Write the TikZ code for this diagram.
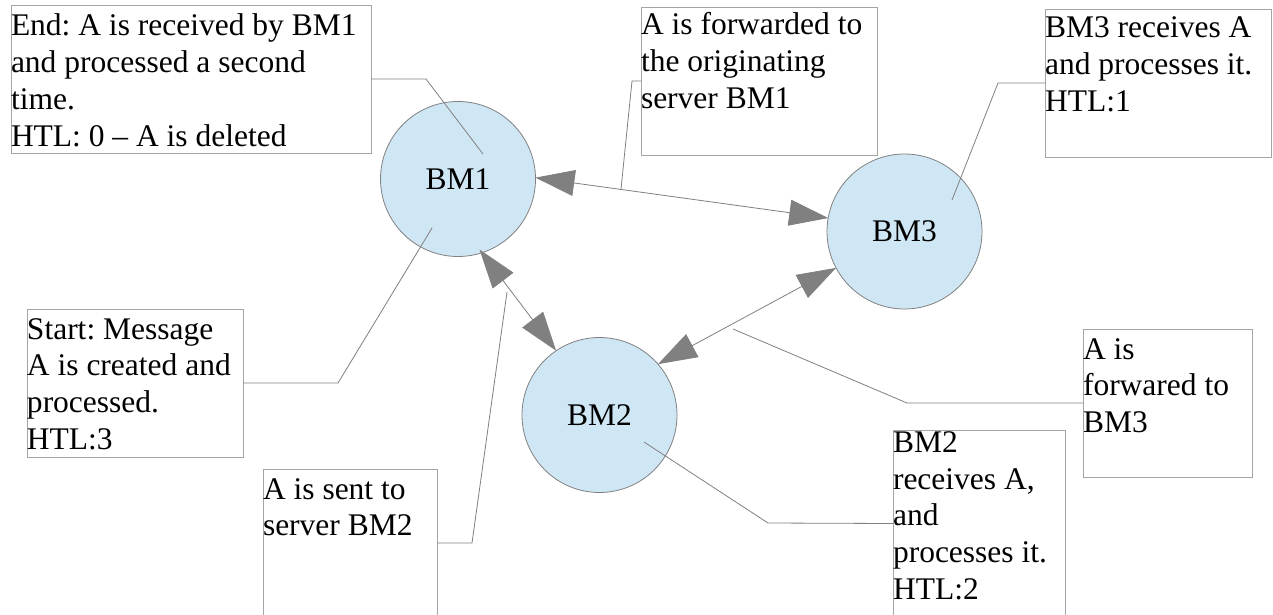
\documentclass[tikz,border=0pt]{standalone}
\usepackage{fontspec}
\setmainfont{Liberation Serif}
\usetikzlibrary{arrows.meta}
\definecolor{bmfill}{RGB}{207,231,245}
\definecolor{lgray}{RGB}{128,128,128}
\definecolor{boxgray}{RGB}{165,165,165}
\newcommand{\boxtext}[4]{\parbox[c][#2pt][t]{#1pt}{\raggedright\frenchspacing\hbadness=10000\rule{0pt}{#3pt}#4}}
\begin{document}
\begin{tikzpicture}[x=1pt,y=-1pt,
  txt/.style={font=\fontsize{31.5pt}{36.7pt}\selectfont},
  tbox/.style={txt,draw=boxgray,line width=0.8pt,inner sep=0pt,outer sep=0pt},
  bm/.style={txt,circle,minimum size=155pt,inner sep=0pt,outer sep=0pt,fill=bmfill,draw=lgray,line width=0.8pt},
  leader/.style={draw=lgray,line width=0.8pt},
  biarrow/.style={draw=lgray,line width=0.8pt,
    {Triangle[length=39pt,width=26pt,fill=lgray]}-{Triangle[length=39pt,width=26pt,fill=lgray]}}]
\useasboundingbox (0,0) rectangle (1273,615);
\fill[white] (0,0) rectangle (1273,615);

% text boxes
\node[tbox] (End) at (191,79) {\boxtext{360}{148}{31}{End: A is received by BM1\\and processed a second\\time.\\HTL: 0 -- A is deleted}};
\node[tbox] (Orig) at (759,81) {\boxtext{236}{148}{28}{A is forwarded to\\the originating\\server BM1}};
\node[tbox] (R3) at (1158,83) {\boxtext{226}{148}{29}{BM3 receives A\\and processes it.\\HTL:1}};
\node[tbox] (Start) at (135,383) {\boxtext{216}{148}{30}{Start: Message\\A is created and\\processed.\\HTL:3}};
\node[tbox] (Sent) at (350,543) {\boxtext{174}{148}{30}{A is sent to\\server BM2}};
\node[tbox] (R2) at (979,523.5) {\boxtext{172}{186}{22}{BM2\\receives A,\\and\\processes it.\\HTL:2}};
\node[tbox] (F3) at (1167.5,403) {\boxtext{169}{148}{30}{A is\\forwared to\\BM3}};

% servers
\node[bm] (BM1) at (458,179) {BM1};
\node[bm] (BM2) at (599.5,415) {BM2};
\node[bm] (BM3) at (904.5,231.5) {BM3};

% leader line points
\coordinate (c1) at (426,79);   \coordinate (t1) at (483,154);
\coordinate (c2) at (632,81);   \coordinate (t2) at (621,189);
\coordinate (c3) at (998,83);   \coordinate (t3) at (952,200);
\coordinate (c4) at (338,383);  \coordinate (t4) at (432,228);
\coordinate (c5) at (472,543);  \coordinate (t5) at (507,292);
\coordinate (c6) at (907,403);  \coordinate (t6) at (733,329);
\coordinate (c7) at (768,523);  \coordinate (t7) at (644,442);

\draw[leader] (End.east) -- (c1) -- (t1);
\draw[leader] (Orig.west) -- (c2) -- (t2);
\draw[leader] (R3.west) -- (c3) -- (t3);
\draw[leader] (Start.east) -- (c4) -- (t4);
\draw[leader] (Sent.east) -- (c5) -- (t5);
\draw[leader] (F3.west) -- (c6) -- (t6);
\draw[leader] (R2.west) -- (c7) -- (t7);

% message connectors
\draw[biarrow] (BM1.1) -- (BM3.170);
\draw[biarrow,shorten <=-4pt] (BM1.-72) -- (BM2.124);
\draw[biarrow] (BM2.41) -- (BM3.208);
\end{tikzpicture}
\end{document}
